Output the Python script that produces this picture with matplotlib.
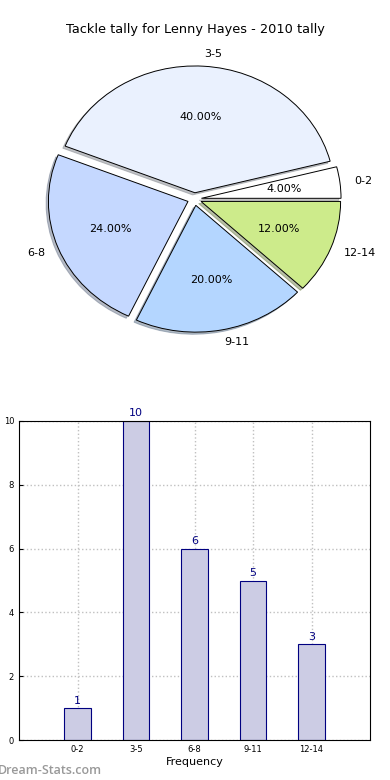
import numpy as np
import matplotlib.pyplot as plt

# tackle ranges and how many games fell in each
ranges = ['0-2', '3-5', '6-8', '9-11', '12-14']
games = [1, 10, 6, 5, 3]
pie_colors = ['#ffffff', '#eaf1fe', '#c5d8ff', '#b4d6ff', '#cdeb8b']

fig = plt.figure(figsize=(3.9, 7.8), dpi=100)

# pie on top, stretched (not round)
ax1 = fig.add_axes([20/390, 1 - 357.6/780, 349/390, 317/780])
ax1.pie(games, labels=ranges, colors=pie_colors, explode=[0.05]*5,
        autopct='%1.2f%%', startangle=0,
        shadow={'ox': -0.012, 'oy': -0.012, 'shade': 0.45},
        wedgeprops={'edgecolor': 'black', 'linewidth': 0.7},
        textprops={'fontsize': 8})
ax1.set_aspect('auto')
ax1.set_xlim(-1.25, 1.25)
ax1.set_ylim(-1.25, 1.25)
fig.text(0.5, 1 - 30/780, 'Tackle tally for Lenny Hayes - 2010 tally',
         ha='center', va='center', fontsize=9.3)

# bars below
ax2 = fig.add_axes([19/390, 40/780, 351/390, 319/780])
x = np.arange(len(ranges))
ax2.bar(x, games, width=0.45, color='#ccccE4', edgecolor='navy', linewidth=0.8,
        zorder=2)
for xi, g in zip(x, games):
    ax2.text(xi, g + 0.08, str(g), ha='center', va='bottom', color='navy',
             fontsize=8)
ax2.set_xlim(-1, 5)
ax2.set_ylim(0, 10)
ax2.set_xticks(x)
ax2.set_xticklabels(ranges)
ax2.set_yticks([0, 2, 4, 6, 8, 10])
ax2.tick_params(labelsize=6, direction='in', length=3)
ax2.grid(True, linestyle=':', color='#c0c0c0', linewidth=1, zorder=0)
ax2.set_axisbelow(True)
ax2.set_xlabel('Frequency', fontsize=8, labelpad=2)
fig.text(-0.022, 1 - 580/780, 'Occurrences', rotation=90, ha='left',
         va='center', fontsize=8)

fig.text(-0.006, 0.004, 'Dream-Stats.com', color='#999999', fontsize=9,
         family=['Open Sans', 'DejaVu Sans'], fontweight='semibold',
         ha='left', va='bottom')

fig.savefig('out.png', dpi=100)
